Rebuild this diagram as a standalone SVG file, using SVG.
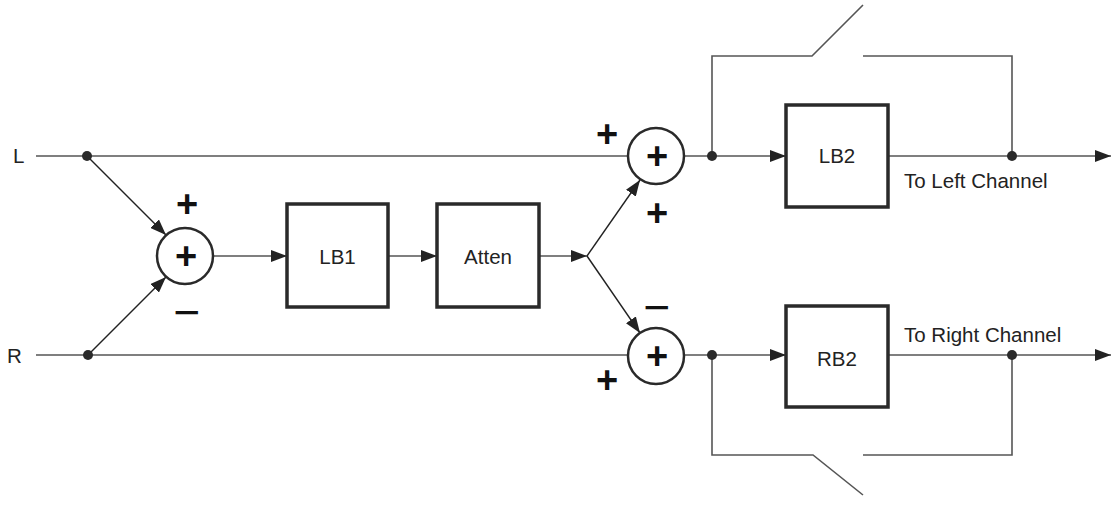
<svg xmlns="http://www.w3.org/2000/svg" width="1112" height="505" viewBox="0 0 1112 505">
<style>
.w{stroke:#555;stroke-width:1.6;fill:none}
.d{stroke:#222;stroke-width:1.4;fill:none}
.box{fill:#fff;stroke:#2a2a2a;stroke-width:3.5}
.sum{fill:#fff;stroke:#2a2a2a;stroke-width:2.5}
.lbl{font-family:"Liberation Sans",Arial,sans-serif;font-size:20.5px;fill:#222}
.sg{font-family:"Liberation Sans",Arial,sans-serif;font-size:38px;font-weight:bold;fill:#111;text-anchor:middle}
.mn{font-family:"Liberation Sans",Arial,sans-serif;font-size:46px;font-weight:normal;fill:#111;text-anchor:middle}
.dot{fill:#2a2a2a}
</style>
<defs>
<marker id="ah" markerWidth="16" markerHeight="12" refX="16" refY="6" orient="auto" markerUnits="userSpaceOnUse">
<path d="M0,0 L16,6 L0,12 Z" fill="#222"/>
</marker>
</defs>
<g id="connectors">
<line class="w" x1="36" y1="156" x2="628" y2="156"/>
<line class="w" x1="36" y1="355" x2="628" y2="355"/>
<line class="d" x1="87" y1="156" x2="166" y2="235" marker-end="url(#ah)"/>
<line class="d" x1="88" y1="355" x2="166" y2="277" marker-end="url(#ah)"/>
<line class="w" x1="213" y1="256" x2="287" y2="256" marker-end="url(#ah)"/>
<line class="w" x1="388" y1="256" x2="437" y2="256" marker-end="url(#ah)"/>
<line class="w" x1="539" y1="256" x2="587" y2="256" marker-end="url(#ah)"/>
<line class="d" x1="587" y1="256" x2="640" y2="180" marker-end="url(#ah)"/>
<line class="d" x1="587" y1="256" x2="640" y2="333" marker-end="url(#ah)"/>
<line class="w" x1="684" y1="156" x2="786" y2="156" marker-end="url(#ah)"/>
<line class="w" x1="684" y1="355" x2="786" y2="355" marker-end="url(#ah)"/>
<line class="w" x1="888" y1="156" x2="1111" y2="156" marker-end="url(#ah)"/>
<line class="w" x1="888" y1="355" x2="1111" y2="355" marker-end="url(#ah)"/>
<polyline class="w" points="712,156 712,56 812,56 863,5"/>
<polyline class="w" points="863,56 1012,56 1012,156"/>
<polyline class="w" points="712,355 712,455 813,455 863,495"/>
<polyline class="w" points="863,455 1012,455 1012,355"/>
<circle class="dot" cx="87" cy="156" r="5"/>
<circle class="dot" cx="88" cy="355" r="5"/>
<circle class="dot" cx="712" cy="156" r="5"/>
<circle class="dot" cx="712" cy="355" r="5"/>
<circle class="dot" cx="1012" cy="156" r="5"/>
<circle class="dot" cx="1012" cy="355" r="5"/>
</g>
<g id="inL"><text class="lbl" x="13" y="163">L</text></g>
<g id="inR"><text class="lbl" x="7" y="363">R</text></g>
<g id="sum1">
<circle class="sum" cx="185" cy="256" r="28"/>
<text class="sg" x="186" y="269">+</text>
<text class="sg" x="187" y="217">+</text>
<text class="mn" x="187" y="328">−</text>
</g>
<g id="LB1"><rect class="box" x="287" y="204" width="101" height="103"/><text class="lbl" x="337.5" y="264" text-anchor="middle">LB1</text></g>
<g id="Atten"><rect class="box" x="437" y="204" width="102" height="103"/><text class="lbl" x="488" y="264" text-anchor="middle">Atten</text></g>
<g id="sum2">
<circle class="sum" cx="656" cy="156" r="28"/>
<text class="sg" x="657" y="169">+</text>
<text class="sg" x="607" y="147">+</text>
<text class="sg" x="657" y="226">+</text>
</g>
<g id="sum3">
<circle class="sum" cx="656" cy="356" r="28"/>
<text class="sg" x="657" y="369">+</text>
<text class="mn" x="657" y="323">−</text>
<text class="sg" x="607" y="393">+</text>
</g>
<g id="LB2"><rect class="box" x="786" y="105" width="102" height="102"/><text class="lbl" x="837" y="163" text-anchor="middle">LB2</text></g>
<g id="RB2"><rect class="box" x="786" y="306" width="102" height="101"/><text class="lbl" x="837" y="366" text-anchor="middle">RB2</text></g>
<g id="outL"><text class="lbl" x="904" y="188">To Left Channel</text></g>
<g id="outR"><text class="lbl" x="904" y="342">To Right Channel</text></g>
</svg>
